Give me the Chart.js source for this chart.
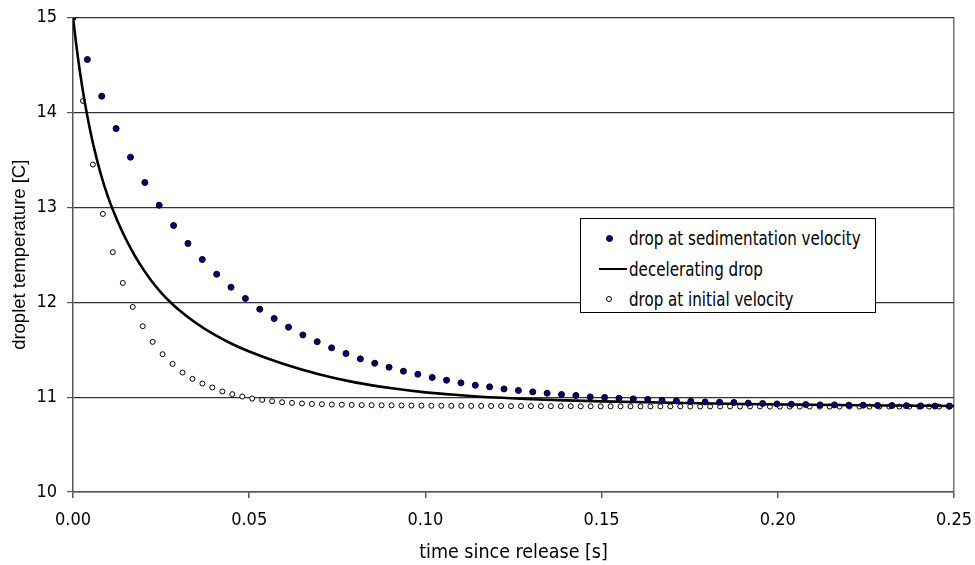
<!DOCTYPE html>
<html>
<head>
<meta charset="utf-8">
<script src="https://cdn.jsdelivr.net/npm/chart.js@4.4.1/dist/chart.umd.min.js"></script>
<style>
body { margin: 0; background: #fff; }
#wrap { position: relative; width: 975px; height: 565px; }
#legend {
    position: absolute; left: 580px; top: 218px; width: 294px; height: 93px;
    border: 1px solid #000; background: #fff; color: #000;
    font-family: "Liberation Sans Narrow", "DejaVu Sans Condensed", "Liberation Sans", sans-serif;
    font-size: 20px;
}
.item { position: absolute; left: 0; height: 30px; display: flex; align-items: center; white-space: nowrap; }
.mark { width: 30px; height: 30px; position: relative; margin-left: 17px; margin-right: 1px; flex: none; }
.label { display: inline-block; transform: scaleX(0.84); transform-origin: left center; }
.dot { position: absolute; left: 8px; top: 12px; width: 5px; height: 5px; border-radius: 50%; background: #000080; border: 1px solid #000; }
.ring { position: absolute; left: 8px; top: 12px; width: 4px; height: 4px; border-radius: 50%; background: #fff; border: 1px solid #000; }
.bar { position: absolute; left: 1px; top: 14px; width: 28px; height: 2.5px; background: #000; }
</style>
</head>
<body>
<div id="wrap">
    <canvas id="chart" width="975" height="565"></canvas>
    <div id="legend"></div>
</div>
<script>
// ─── Data ────────────────────────────────────────────────────────────────────
const seriesLabels = ['drop at sedimentation velocity', 'decelerating drop', 'drop at initial velocity'];

const sedTimes = [0, 0.00408, 0.00815, 0.01223, 0.01631, 0.02039, 0.02446, 0.02854, 0.03262, 0.03669,
    0.04077, 0.04485, 0.04892, 0.05300, 0.05708, 0.06116, 0.06523, 0.06931, 0.07339, 0.07746,
    0.08154, 0.08562, 0.08969, 0.09377, 0.09785, 0.10193, 0.10600, 0.11008, 0.11416, 0.11823,
    0.12231, 0.12639, 0.13046, 0.13454, 0.13862, 0.14270, 0.14677, 0.15085, 0.15493, 0.15900,
    0.16308, 0.16716, 0.17123, 0.17531, 0.17939, 0.18347, 0.18754, 0.19162, 0.19570, 0.19977,
    0.20385, 0.20793, 0.21200, 0.21608, 0.22016, 0.22424, 0.22831, 0.23239, 0.23647, 0.24054,
    0.24462, 0.24870];
const sedTemps = [15, 14.557, 14.171, 13.830, 13.528, 13.261, 13.022, 12.808, 12.619, 12.450,
    12.295, 12.158, 12.039, 11.926, 11.828, 11.737, 11.655, 11.584, 11.519, 11.459,
    11.403, 11.357, 11.315, 11.273, 11.241, 11.207, 11.178, 11.150, 11.125, 11.108,
    11.086, 11.070, 11.055, 11.041, 11.027, 11.017, 11.002, 10.996, 10.988, 10.981,
    10.975, 10.967, 10.960, 10.957, 10.949, 10.946, 10.943, 10.936, 10.933, 10.928,
    10.925, 10.922, 10.918, 10.918, 10.915, 10.915, 10.912, 10.911, 10.910, 10.907,
    10.906, 10.905];

const decelTimes = [0, 0.001, 0.002, 0.003, 0.004, 0.005, 0.006, 0.008, 0.010, 0.0125,
    0.015, 0.0175, 0.020, 0.0225, 0.025, 0.0275, 0.030, 0.035, 0.040, 0.045,
    0.050, 0.060, 0.070, 0.080, 0.090, 0.100, 0.110, 0.120, 0.130, 0.140,
    0.150, 0.170, 0.190, 0.210, 0.230, 0.250];
const decelTemps = [15, 14.691, 14.42, 14.182, 13.974, 13.789, 13.621, 13.335, 13.102, 12.867,
    12.666, 12.492, 12.343, 12.213, 12.102, 12.005, 11.921, 11.778, 11.66, 11.562,
    11.48, 11.345, 11.238, 11.155, 11.095, 11.05, 11.02, 10.995, 10.978, 10.965,
    10.955, 10.94, 10.928, 10.919, 10.912, 10.906];

const initTimes = [0, 0.00283, 0.00565, 0.00848, 0.0113, 0.01413, 0.01695, 0.01978, 0.0226, 0.02543,
    0.02825, 0.03108, 0.0339, 0.03673, 0.03955, 0.04238, 0.0452, 0.04803, 0.05085, 0.05368,
    0.0565, 0.05933, 0.06215, 0.06498, 0.0678, 0.07063, 0.07345, 0.07628, 0.0791, 0.08193,
    0.08475, 0.08758, 0.0904, 0.09323, 0.09605, 0.09888, 0.1017, 0.10453, 0.10735, 0.11018,
    0.113, 0.11583, 0.11865, 0.12148, 0.1243, 0.12713, 0.12995, 0.13278, 0.1356, 0.13843,
    0.14125, 0.14408, 0.1469, 0.14973, 0.15255, 0.15538, 0.1582, 0.16103, 0.16385, 0.16668,
    0.1695, 0.17233, 0.17515, 0.17798, 0.1808, 0.18363, 0.18645, 0.18928, 0.1921, 0.19493,
    0.19775, 0.20058, 0.2034, 0.20623, 0.20905, 0.21188, 0.2147, 0.21753, 0.22035, 0.22318,
    0.226, 0.22883, 0.23165, 0.23448, 0.2373, 0.24013, 0.24295, 0.24578, 0.2486];
const initTemps = [15, 14.121, 13.451, 12.930, 12.527, 12.203, 11.950, 11.747, 11.582, 11.452,
    11.350, 11.259, 11.192, 11.143, 11.101, 11.059, 11.031, 11.006, 10.985, 10.970,
    10.957, 10.946, 10.939, 10.933, 10.928, 10.925, 10.922, 10.920, 10.918, 10.916,
    10.915, 10.914, 10.913, 10.912, 10.911, 10.910, 10.909, 10.909, 10.908, 10.908,
    10.907, 10.907, 10.906, 10.906, 10.905, 10.905, 10.905, 10.904, 10.904, 10.904,
    10.904, 10.903, 10.903, 10.903, 10.903, 10.903, 10.902, 10.902, 10.902, 10.902,
    10.902, 10.902, 10.901, 10.901, 10.901, 10.901, 10.901, 10.901, 10.901, 10.901,
    10.900, 10.900, 10.900, 10.900, 10.900, 10.900, 10.900, 10.900, 10.900, 10.900,
    10.900, 10.900, 10.900, 10.900, 10.900, 10.900, 10.900, 10.900, 10.900];

const xTicks = [0, 0.05, 0.10, 0.15, 0.20, 0.25];
const yTicks = [10, 11, 12, 13, 14, 15];

const toPoints = (xs, ys) => xs.map((x, i) => ({ x: x, y: ys[i] }));

// ─── Chart ───────────────────────────────────────────────────────────────────
const narrow = '"Liberation Sans Narrow", "DejaVu Sans Condensed", "Liberation Sans", sans-serif';

const ctx = document.getElementById('chart').getContext('2d');
new Chart(ctx, {
    type: 'scatter',
    data: {
        datasets: [{
            label: seriesLabels[0],
            data: toPoints(sedTimes, sedTemps),
            backgroundColor: '#000080',
            borderColor: '#000',
            borderWidth: 1,
            pointRadius: 3,
            showLine: false
        }, {
            label: seriesLabels[1],
            data: toPoints(decelTimes, decelTemps),
            borderColor: '#000',
            borderWidth: 2.6,
            pointRadius: 0,
            showLine: true,
            cubicInterpolationMode: 'monotone'
        }, {
            label: seriesLabels[2],
            data: toPoints(initTimes, initTemps),
            backgroundColor: '#fff',
            borderColor: '#000',
            borderWidth: 1,
            pointRadius: 2.5,
            showLine: false
        }]
    },
    options: {
        responsive: false,
        animation: false,
        layout: { padding: { top: 17.5, right: 21, left: 0, bottom: 0 } },
        plugins: { legend: { display: false }, tooltip: { enabled: false } },
        scales: {
            x: {
                type: 'linear',
                min: 0, max: 0.25,
                afterBuildTicks: (scale) => { scale.ticks = xTicks.map(v => ({ value: v })); },
                afterFit: (scale) => {
                    scale.height = 73;
                    scale.paddingLeft = 0;
                    scale.paddingRight = 0;
                },
                ticks: {
                    callback: (v) => v.toFixed(2),
                    color: '#000',
                    font: { family: narrow, size: 18 },
                    padding: 12,
                    maxRotation: 0
                },
                grid: {
                    color: (c) => (c.tick && c.tick.value === 0.25) ? '#777' : 'rgba(0,0,0,0)',
                    tickColor: '#555',
                    tickLength: 6,
                    lineWidth: 1.5
                },
                border: { color: '#555', width: 1.5 },
                title: {
                    display: true,
                    text: 'time since release [s]',
                    color: '#000',
                    font: { family: narrow, size: 19.5 },
                    padding: { top: 1, bottom: 0 }
                }
            },
            y: {
                min: 10, max: 15,
                afterBuildTicks: (scale) => { scale.ticks = yTicks.map(v => ({ value: v })); },
                afterFit: (scale) => {
                    scale.width = 73;
                    scale.paddingTop = 0;
                    scale.paddingBottom = 0;
                },
                ticks: {
                    color: '#000',
                    font: { family: narrow, size: 18 },
                    padding: 10
                },
                grid: {
                    color: '#333',
                    tickColor: '#555',
                    tickLength: 6,
                    lineWidth: 1.2
                },
                border: { color: '#555', width: 1.5 },
                title: {
                    display: true,
                    text: 'droplet temperature [C]',
                    color: '#000',
                    font: { family: '"Liberation Sans", Arial, sans-serif', size: 18.5 },
                    padding: { top: 9, bottom: 0 }
                }
            }
        }
    }
});

// ─── Legend (HTML, inside plot area) ─────────────────────────────────────────
const legend = document.getElementById('legend');
const markClass = ['dot', 'bar', 'ring'];
seriesLabels.forEach((label, i) => {
    const item = document.createElement('div');
    item.className = 'item';
    item.style.top = (4 + i * 30.5) + 'px';
    const mark = document.createElement('span');
    mark.className = 'mark';
    const sym = document.createElement('span');
    sym.className = markClass[i];
    mark.appendChild(sym);
    const text = document.createElement('span');
    text.className = 'label';
    text.textContent = label;
    item.appendChild(mark);
    item.appendChild(text);
    legend.appendChild(item);
});
</script>
</body>
</html>
